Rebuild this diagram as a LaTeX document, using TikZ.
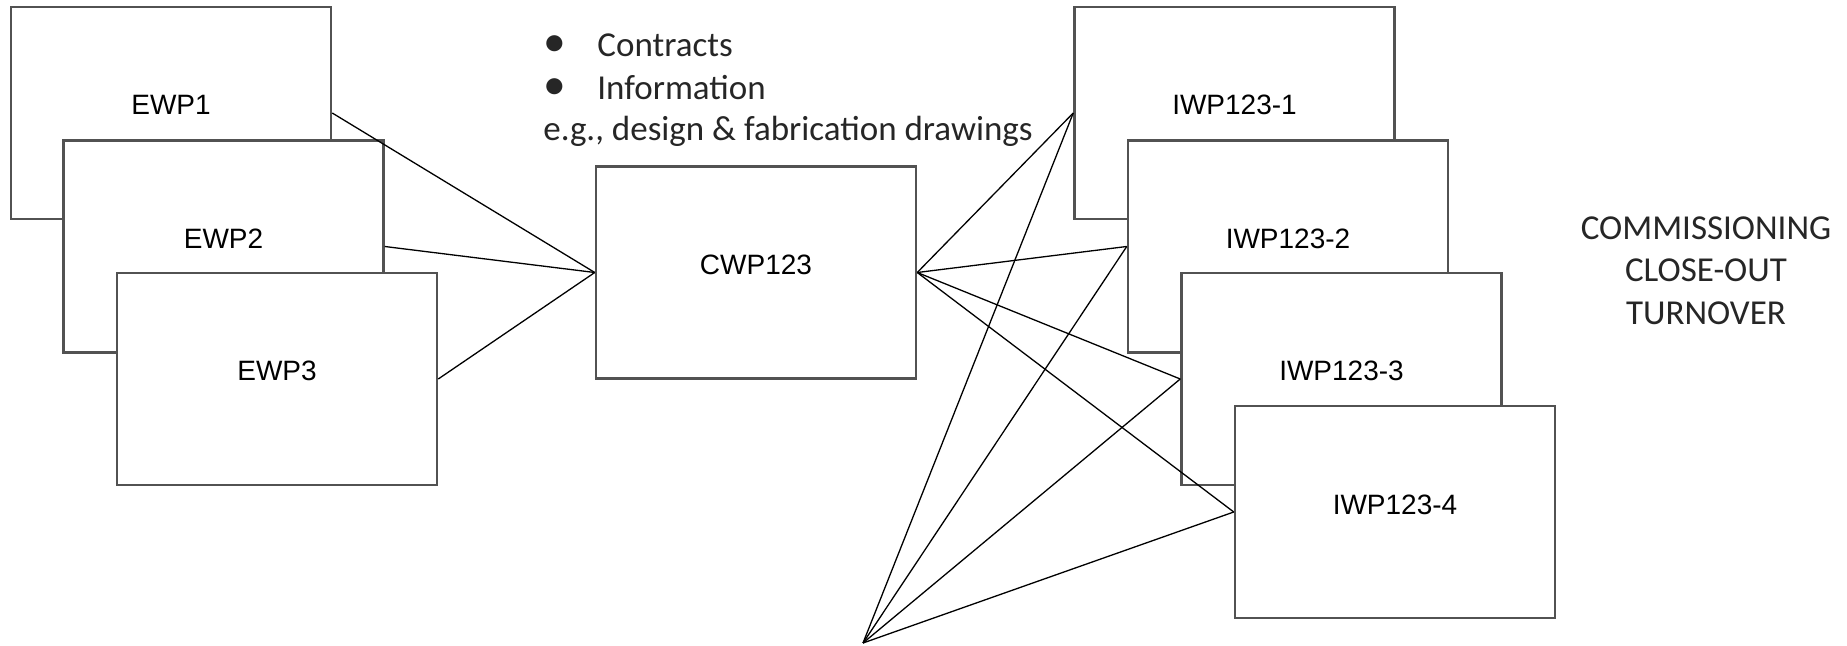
\documentclass[tikz,border=0pt]{standalone}
\usepackage{fontspec}
\setmainfont{Liberation Sans}
\newfontfamily\calfont{Carlito}
\begin{document}
\begin{tikzpicture}[x=0.5pt,y=-0.5pt,
  wpbox/.style={draw=black!68,line width=1.25pt,fill=white,minimum width=160pt,minimum height=106pt,
    inner sep=0pt,font=\fontsize{14pt}{16pt}\selectfont,text height=10pt,text depth=8pt},
  conn/.style={draw=black,line width=0.65pt},
  caltext/.style={font=\calfont\fontsize{17.5pt}{21pt}\selectfont,inner sep=0pt,text=black!85}]
\useasboundingbox (0,0) rectangle (1847,646);
% EWP boxes
\node[wpbox] (e1) at (171,113) {EWP1};
\node[wpbox] (e2) at (223.5,246.5) {EWP2};
\node[wpbox] (e3) at (277,379) {EWP3};
% CWP
\node[wpbox] (cwp) at (756,272.5) {CWP123};
% IWP boxes
\node[wpbox] (i1) at (1234.5,113) {IWP123-1};
\node[wpbox] (i2) at (1288,246.5) {IWP123-2};
\node[wpbox] (i3) at (1341.5,379) {IWP123-3};
\node[wpbox] (i4) at (1395,512) {IWP123-4};
% bottom point
\coordinate (bp) at (863,643);
% connectors
\draw[conn] (e1.east) -- (cwp.west);
\draw[conn] (e2.east) -- (cwp.west);
\draw[conn] (e3.east) -- (cwp.west);
\draw[conn] (cwp.east) -- (i1.west);
\draw[conn] (cwp.east) -- (i2.west);
\draw[conn] (cwp.east) -- (i3.west);
\draw[conn] (cwp.east) -- (i4.west);
\draw[conn] (bp) -- (i1.west);
\draw[conn] (bp) -- (i2.west);
\draw[conn] (bp) -- (i3.west);
\draw[conn] (bp) -- (i4.west);
% texts
\node[caltext,anchor=base west] (b1) at (543,57) {\makebox[27pt][l]{\scalebox{1.3}{•}}Contracts};
\node[caltext,anchor=base west] (b2) at (543,100) {\makebox[27pt][l]{\scalebox{1.3}{•}}Information};
\node[caltext,anchor=base west] (b3) at (543,141) {e.g., design \& fabrication drawings};
\node[caltext,anchor=base] (t1) at (1706,240) {COMMISSIONING};
\node[caltext,anchor=base] (t2) at (1706,282) {CLOSE-OUT};
\node[caltext,anchor=base] (t3) at (1706,325) {TURNOVER};
\end{tikzpicture}
\end{document}
